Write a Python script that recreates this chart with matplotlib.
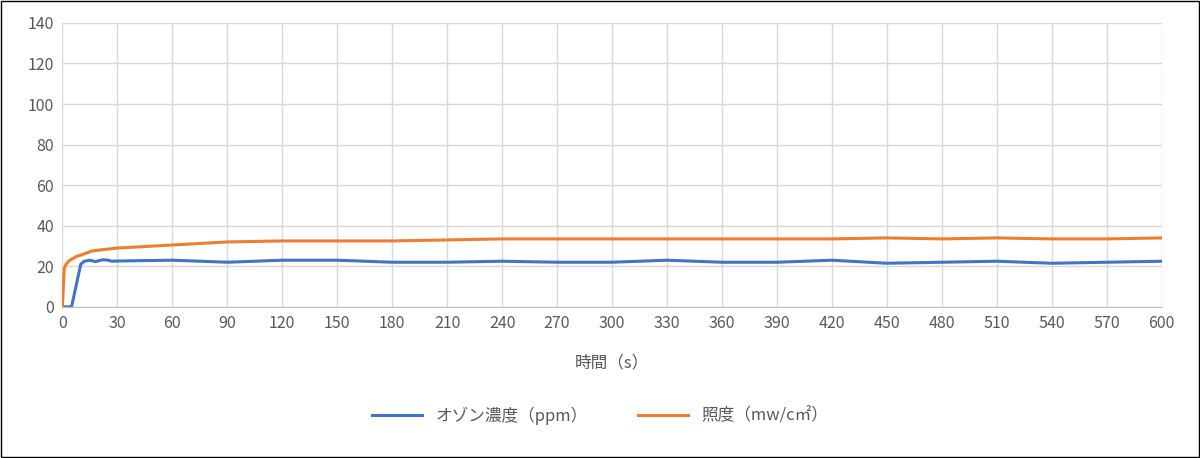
import matplotlib
matplotlib.use('Agg')
import matplotlib.pyplot as plt
from matplotlib.patches import Rectangle

plt.rcParams['font.family'] = ['Noto Sans CJK JP', 'DejaVu Sans']

# readings
t_ozone = [0, 5, 10, 12, 15, 18, 20, 22, 25, 27, 30, 60, 90, 120, 150, 180, 210, 240, 270, 300,
           330, 360, 390, 420, 450, 480, 510, 540, 570, 600]
ozone = [0, 0, 21, 22.5, 23, 22.3, 22.8, 23.2, 23, 22.5, 22.6, 23, 22, 23, 23, 22, 22, 22.5, 22, 22,
         23, 22, 22, 23, 21.5, 22, 22.5, 21.5, 22, 22.5]
t_light = [0, 1, 2, 4, 6, 8, 10, 13, 16, 20, 25, 30, 60, 90, 120, 150, 180, 210, 240, 270, 300,
           330, 360, 390, 420, 450, 480, 510, 540, 570, 600]
light = [0, 19, 21, 23, 24, 25, 25.5, 26.5, 27.5, 28, 28.5, 29, 30.5, 32, 32.5, 32.5, 32.5, 33, 33.5,
         33.5, 33.5, 33.5, 33.5, 33.5, 33.5, 34, 33.5, 34, 33.5, 33.5, 34]

fig = plt.figure(figsize=(12, 4.58), dpi=100)
ax = fig.add_axes([0.052, 0.33, 0.916, 0.62])
ax.plot(t_ozone, ozone, color='#4472C4', lw=2.2, label='オゾン濃度（ppm）')
ax.plot(t_light, light, color='#ED7D31', lw=2.2, label='照度（mw/c㎡）')

ax.set_xlim(0, 600)
ax.set_ylim(0, 140)
ax.set_xticks(range(0, 601, 30))
ax.set_yticks(range(0, 141, 20))
ax.grid(color='#D9D9D9', lw=1)
ax.set_axisbelow(True)
for s in ['top', 'right', 'left']:
    ax.spines[s].set_visible(False)
ax.spines['bottom'].set_color('#BFBFBF')
ax.tick_params(length=0, labelsize=11.5, colors='#595959', pad=6)
ax.set_xlabel('時間（s）', fontsize=12, color='#595959', labelpad=16)
fig.legend(loc='lower center', bbox_to_anchor=(0.5, 0.04), ncol=2, frameon=False,
           fontsize=12, labelcolor='#595959', handlelength=3, columnspacing=3)
fig.patches.append(Rectangle((0.001, 0.002), 0.998, 0.996, transform=fig.transFigure,
                             fill=False, edgecolor='black', lw=1))
fig.savefig('out.png')
